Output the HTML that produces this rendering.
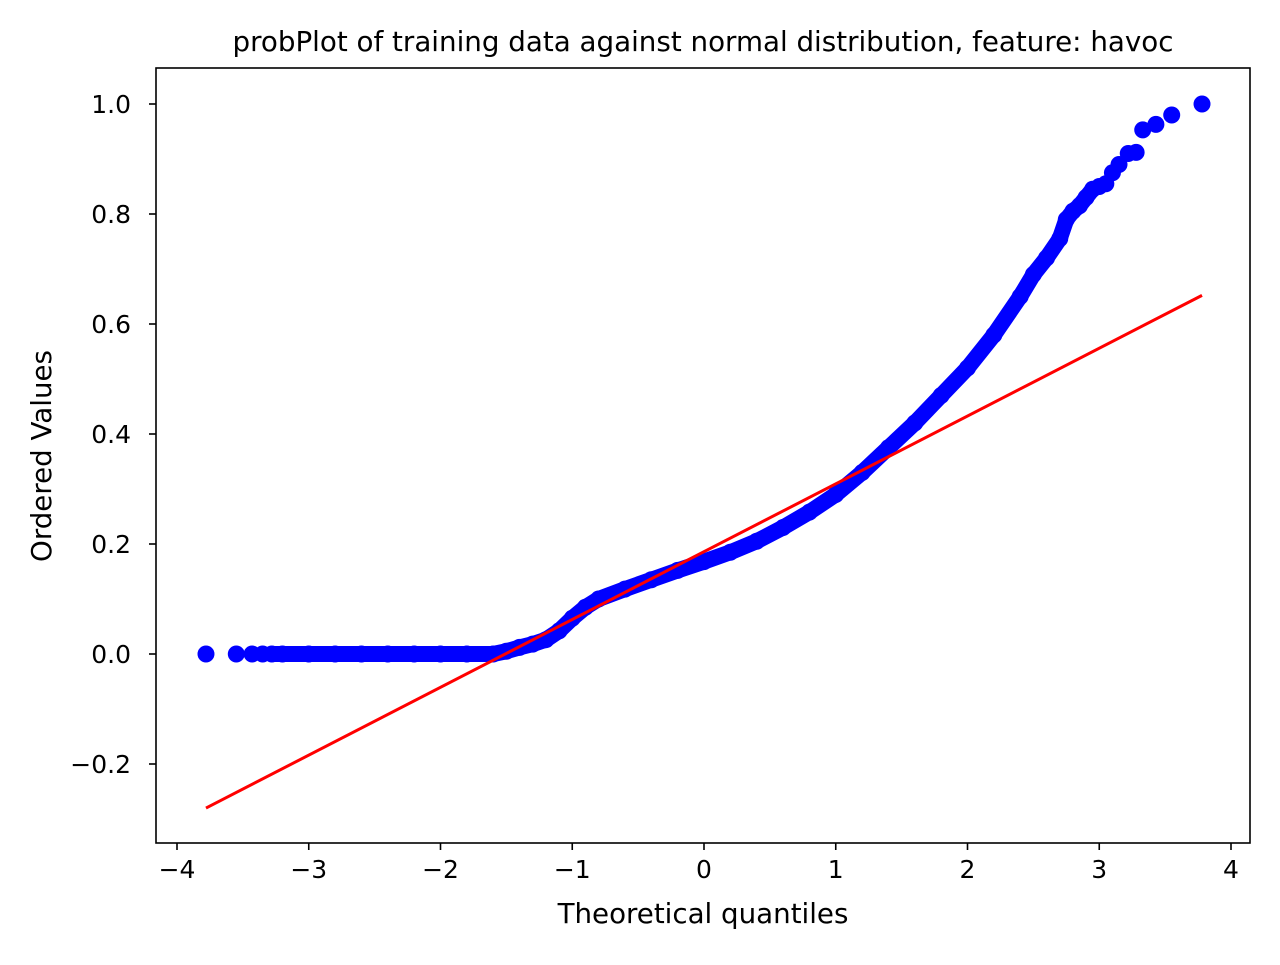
<!DOCTYPE html>
<html><head><meta charset="utf-8"><style>
body{margin:0;background:#fff}
svg text{font-family:"DejaVu Sans","Liberation Sans",sans-serif;fill:#000}
</style></head><body>
<svg id="chart" width="1280" height="960" xmlns="http://www.w3.org/2000/svg">
<rect width="1280" height="960" fill="#fff"/>
<text x="703" y="51" font-size="27.7" text-anchor="middle" textLength="941" lengthAdjust="spacingAndGlyphs">probPlot of training data against normal distribution, feature: havoc</text>
<g id="plot"></g>
<rect x="156" y="68" width="1094" height="775" fill="none" stroke="#000" stroke-width="1.6"/>
<text x="703" y="923" font-size="27.7" text-anchor="middle">Theoretical quantiles</text>
<text transform="translate(51,456) rotate(-90)" font-size="27.7" text-anchor="middle">Ordered Values</text>
</svg>
<script>
const xTicks=[-4,-3,-2,-1,0,1,2,3,4];
const yTicks=[-0.2,0.0,0.2,0.4,0.6,0.8,1.0];
const qx=[-3.78,-3.55,-3.43,-3.35,-3.28,-3.2,-3.0,-2.8,-2.6,-2.4,-2.2,-2.0,-1.8,-1.6,-1.5,-1.4,-1.3,-1.2,-1.1,-1.0,-0.9,-0.8,-0.6,-0.4,-0.2,0,0.2,0.4,0.6,0.8,1.0,1.2,1.4,1.6,1.8,2.0,2.2,2.4,2.5,2.6,2.7,2.75,2.8,2.85,2.9,2.95,3.0,3.05,3.1,3.15,3.22,3.28,3.33,3.43,3.55,3.78];
const qy=[0,0,0,0,0,0,0,0,0,0,0,0,0,0,0.005,0.012,0.018,0.026,0.042,0.065,0.085,0.1,0.118,0.135,0.152,0.168,0.185,0.205,0.23,0.258,0.29,0.33,0.375,0.42,0.47,0.52,0.58,0.65,0.69,0.72,0.755,0.79,0.805,0.815,0.83,0.845,0.85,0.855,0.875,0.89,0.91,0.912,0.953,0.963,0.98,1.0];
const fitSlope=0.1233, fitIntercept=0.186;
const fitRange=[-3.78,3.78];
const sx=v=>704+v*131.75, sy=v=>654-v*550;
const g=document.getElementById('plot');
const NS='http://www.w3.org/2000/svg';
function mk(t,a){const e=document.createElementNS(NS,t);for(const k in a)e.setAttribute(k,a[k]);g.appendChild(e);return e;}
xTicks.forEach(v=>{
 const l=mk('line',{x1:sx(v),x2:sx(v),y1:843,y2:850,stroke:'#000','stroke-width':1.6});
 
 
 const t=mk('text',{x:sx(v),y:878,'font-size':25,'text-anchor':'middle'});
 t.textContent=(v<0?'\u2212':'')+Math.abs(v);
 
 
});
yTicks.forEach(v=>{
 const l=mk('line',{x1:149,x2:156,y1:sy(v),y2:sy(v),stroke:'#000','stroke-width':1.6});
 
 
 const t=mk('text',{x:131,y:sy(v)+9,'font-size':25,'text-anchor':'end'});
 t.textContent=(v<0?'\u2212':'')+Math.abs(v).toFixed(1);
 
 
});
let pts=[];for(let i=4;i<qx.length;i++){if(qx[i]>2.96)break;pts.push(sx(qx[i])+','+sy(qy[i]));}
const pl=mk('polyline',{points:pts.join(' '),fill:'none',stroke:'#0000ff','stroke-width':16,'stroke-linecap':'round','stroke-linejoin':'round'});


qx.forEach((v,i)=>{
 const c=mk('circle',{cx:sx(v),cy:sy(qy[i]),r:8.5,fill:'#0000ff'});
 
 
});
const fl=mk('line',{x1:sx(fitRange[0]),y1:sy(fitIntercept+fitSlope*fitRange[0]),x2:sx(fitRange[1]),y2:sy(fitIntercept+fitSlope*fitRange[1]),stroke:'#ff0000','stroke-width':3});


</script>
</body></html>
